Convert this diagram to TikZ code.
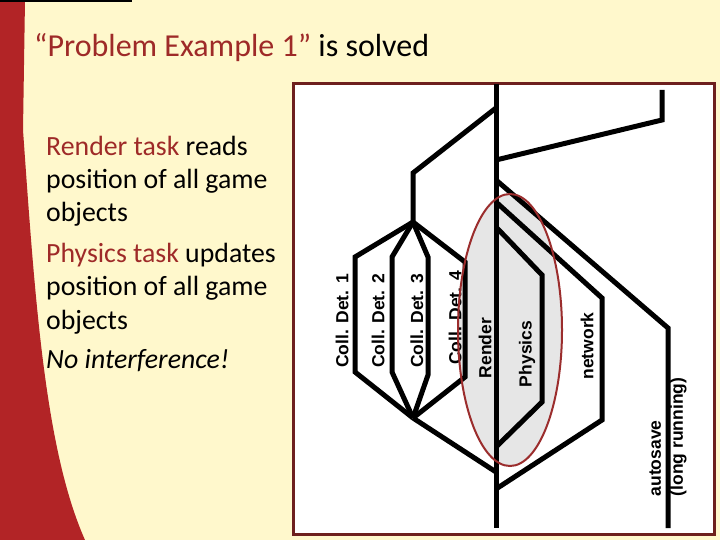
\documentclass[tikz,border=0pt]{standalone}
\usepackage{fontspec}
\setmainfont{Carlito}
\newfontfamily\lblfont{Liberation Sans}
\definecolor{cream}{RGB}{255,248,204}
\definecolor{band}{RGB}{178,36,38}
\definecolor{tred}{RGB}{158,42,40}
\definecolor{boxred}{RGB}{110,32,30}
\definecolor{ellred}{RGB}{155,45,45}
\definecolor{hlgray}{RGB}{230,230,230}
\begin{document}
\begin{tikzpicture}[x=1pt,y=-1pt,
  thread/.style={line width=5pt, black, line join=miter},
  lbl/.style={rotate=90, font=\lblfont\bfseries\fontsize{17.5}{22}\selectfont, inner sep=0pt},
  body/.style={anchor=base west, inner sep=0pt, font=\fontsize{27.8}{33}\selectfont}]
\useasboundingbox (0,0) rectangle (720,540);
\fill[cream] (0,0) rectangle (720,540);
\fill[band] (0,0) -- (25,0) -- (23,130) .. controls (35,300) and (45,450) .. (85,540) -- (0,540) -- cycle;
\draw[line width=2pt] (0,1) -- (132,1);

% title
\node[body, font=\fontsize{32}{38}\selectfont] (title) at (34,57) {\textcolor{tred}{“Problem Example 1”} is solved};

% body text
\node[body] (l1) at (46,156) {\textcolor{tred}{Render task} reads};
\node[body] (l2) at (46,189) {position of all game};
\node[body] (l3) at (46,222) {objects};
\node[body] (l4) at (46,262) {\textcolor{tred}{Physics task} updates};
\node[body] (l5) at (46,295) {position of all game};
\node[body] (l6) at (46,329) {objects};
\node[body] (l7) at (46,368) {\itshape No interference!};

% diagram box
\draw[boxred, line width=3pt, fill=white] (293,84) rectangle (714,534);

% highlight fill
\fill[hlgray] (510,330) ellipse [x radius=52pt, y radius=136pt];

% coordinates
\coordinate (mtop) at (496,84);
\coordinate (mbot) at (496,528);
\coordinate (m1) at (496,108);
\coordinate (m2) at (496,160);
\coordinate (m3) at (496,180);
\coordinate (m4) at (496,202);
\coordinate (m5) at (496,227);
\coordinate (m6) at (496,447);
\coordinate (m7) at (496,472);
\coordinate (m8) at (496,489);
\coordinate (lb1) at (413,173);
\coordinate (B) at (413,222);
\coordinate (J) at (413,418);

% threads
\draw[thread] (mtop) -- (mbot);
\draw[thread] (m1) -- (lb1) -- (B);
\draw[thread] (B) -- (355,257) -- (355,372) -- (J);
\draw[thread] (B) -- (392,257) -- (392,372) -- (J);
\draw[thread] (B) -- (428,257) -- (428,375) -- (J);
\draw[thread] (B) -- (465,262) -- (465,377) -- (J);
\draw[thread] (J) -- (m7);
\draw[thread] (m2) -- (662,120) -- (662,90);
\draw[thread] (m3) -- (668,328) -- (668,528);
\draw[thread] (m4) -- (602,298) -- (602,420) -- (m8);
\draw[thread] (m5) -- (542,275) -- (542,402) -- (m6);

% labels
\node[lbl] (cd1) at (342,321) {Coll. Det. 1};
\node[lbl] (cd2) at (378,321) {Coll. Det. 2};
\node[lbl] (cd3) at (417,321) {Coll. Det. 3};
\node[lbl] (cd4) at (455,318) {Coll. Det. 4};
\node[lbl] (rend) at (485,348) {Render};
\node[lbl] (phys) at (527,354) {Physics};
\node[lbl] (net) at (587,346) {network};
\node[lbl, align=left] (auto) at (668,437) {autosave\\(long running)};

% highlight outline
\draw[ellred, line width=2pt] (510,330) ellipse [x radius=52pt, y radius=136pt];
\end{tikzpicture}
\end{document}
